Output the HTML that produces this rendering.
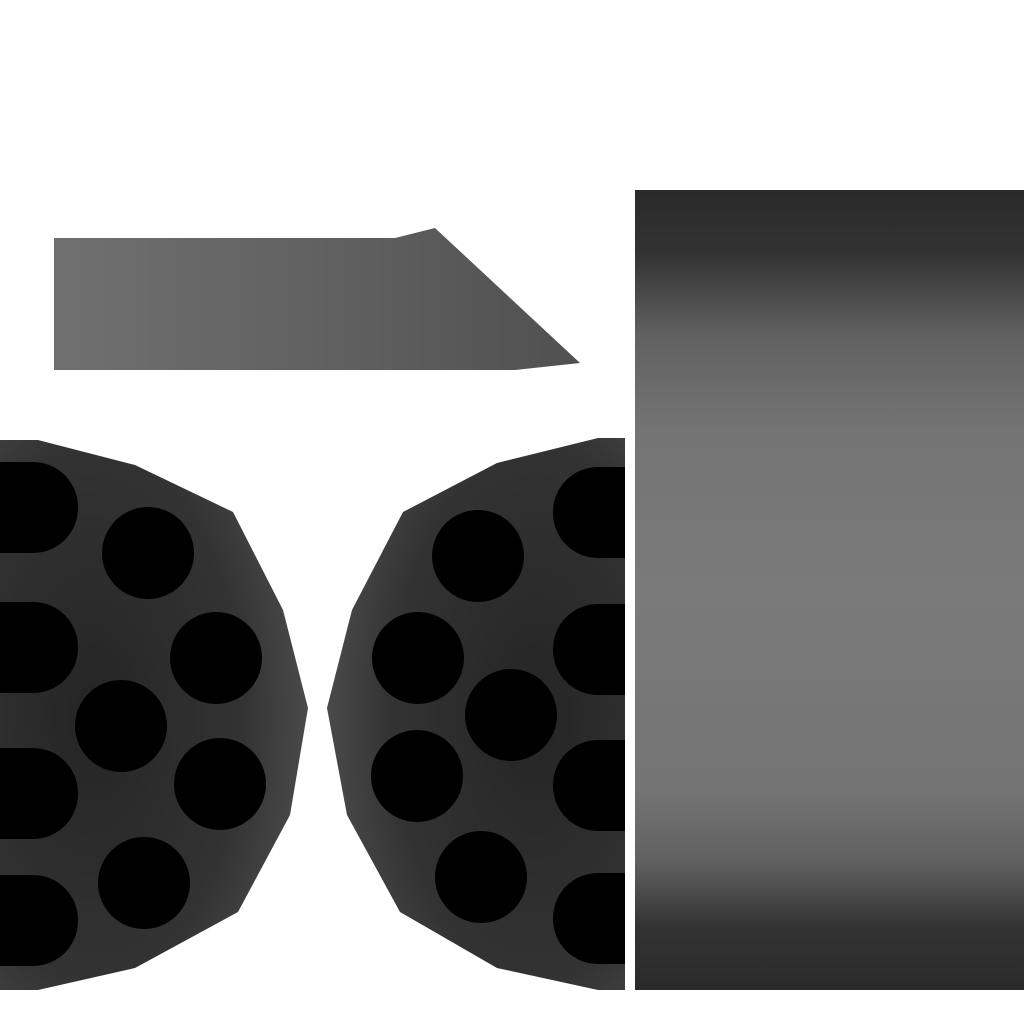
<!DOCTYPE html>
<html><head><meta charset="utf-8"><style>html,body{margin:0;padding:0;background:#fff}svg{display:block}</style></head>
<body>
<svg width="1024" height="1024" viewBox="0 0 1024 1024">
<defs>
<linearGradient id="strip" x1="0" x2="1" y1="0" y2="0">
<stop offset="0" stop-color="#707070"/><stop offset="0.6" stop-color="#5e5e5e"/><stop offset="1" stop-color="#505050"/>
</linearGradient>
<linearGradient id="panel" x1="0" x2="0" y1="0" y2="1">
<stop offset="0" stop-color="#2a2a2a"/><stop offset="0.08" stop-color="#333"/><stop offset="0.18" stop-color="#606060"/>
<stop offset="0.3" stop-color="#747474"/><stop offset="0.5" stop-color="#7a7a7a"/><stop offset="0.75" stop-color="#747474"/><stop offset="0.84" stop-color="#606060"/><stop offset="0.92" stop-color="#333"/><stop offset="1" stop-color="#2a2a2a"/>
</linearGradient>
<radialGradient id="discL" cx="0.3" cy="0.5" r="0.7">
<stop offset="0" stop-color="#252525"/><stop offset="0.7" stop-color="#333"/><stop offset="1" stop-color="#4a4a4a"/>
</radialGradient>
<radialGradient id="discR" cx="0.7" cy="0.5" r="0.7">
<stop offset="0" stop-color="#252525"/><stop offset="0.7" stop-color="#333"/><stop offset="1" stop-color="#4a4a4a"/>
</radialGradient>
<clipPath id="clipR"><rect x="300" y="430" width="325" height="570"/></clipPath>
</defs>
<polygon points="54,238 395,238 435,228 580,363 515,370 54,370" fill="url(#strip)"/>
<rect x="635" y="190" width="389" height="800" fill="url(#panel)"/>
<g>
<polygon points="0,440 38,440 135,465 233,512 283,610 308,708 290,815 238,912 135,968 38,990 0,990" fill="url(#discL)"/>
<rect x="-50" y="462" width="128" height="91" rx="45" fill="#000"/>
<rect x="-50" y="602" width="128" height="91" rx="45" fill="#000"/>
<rect x="-50" y="748" width="128" height="91" rx="45" fill="#000"/>
<rect x="-50" y="875" width="128" height="91" rx="45" fill="#000"/>
<circle cx="148" cy="553" r="46" fill="#000"/>
<circle cx="216" cy="658" r="46" fill="#000"/>
<circle cx="121" cy="726" r="46" fill="#000"/>
<circle cx="220" cy="784" r="46" fill="#000"/>
<circle cx="144" cy="883" r="46" fill="#000"/>
</g>
<g clip-path="url(#clipR)">
<polygon points="625,438 598,438 497,463 403,512 352,610 327,708 347,815 400,912 497,968 598,990 625,990" fill="url(#discR)"/>
<rect x="553" y="467" width="128" height="91" rx="45" fill="#000"/>
<rect x="553" y="604" width="128" height="91" rx="45" fill="#000"/>
<rect x="553" y="740" width="128" height="91" rx="45" fill="#000"/>
<rect x="553" y="873" width="128" height="91" rx="45" fill="#000"/>
<circle cx="478" cy="556" r="46" fill="#000"/>
<circle cx="418" cy="658" r="46" fill="#000"/>
<circle cx="511" cy="715" r="46" fill="#000"/>
<circle cx="417" cy="776" r="46" fill="#000"/>
<circle cx="481" cy="877" r="46" fill="#000"/>
</g>
</svg>
</body></html>
